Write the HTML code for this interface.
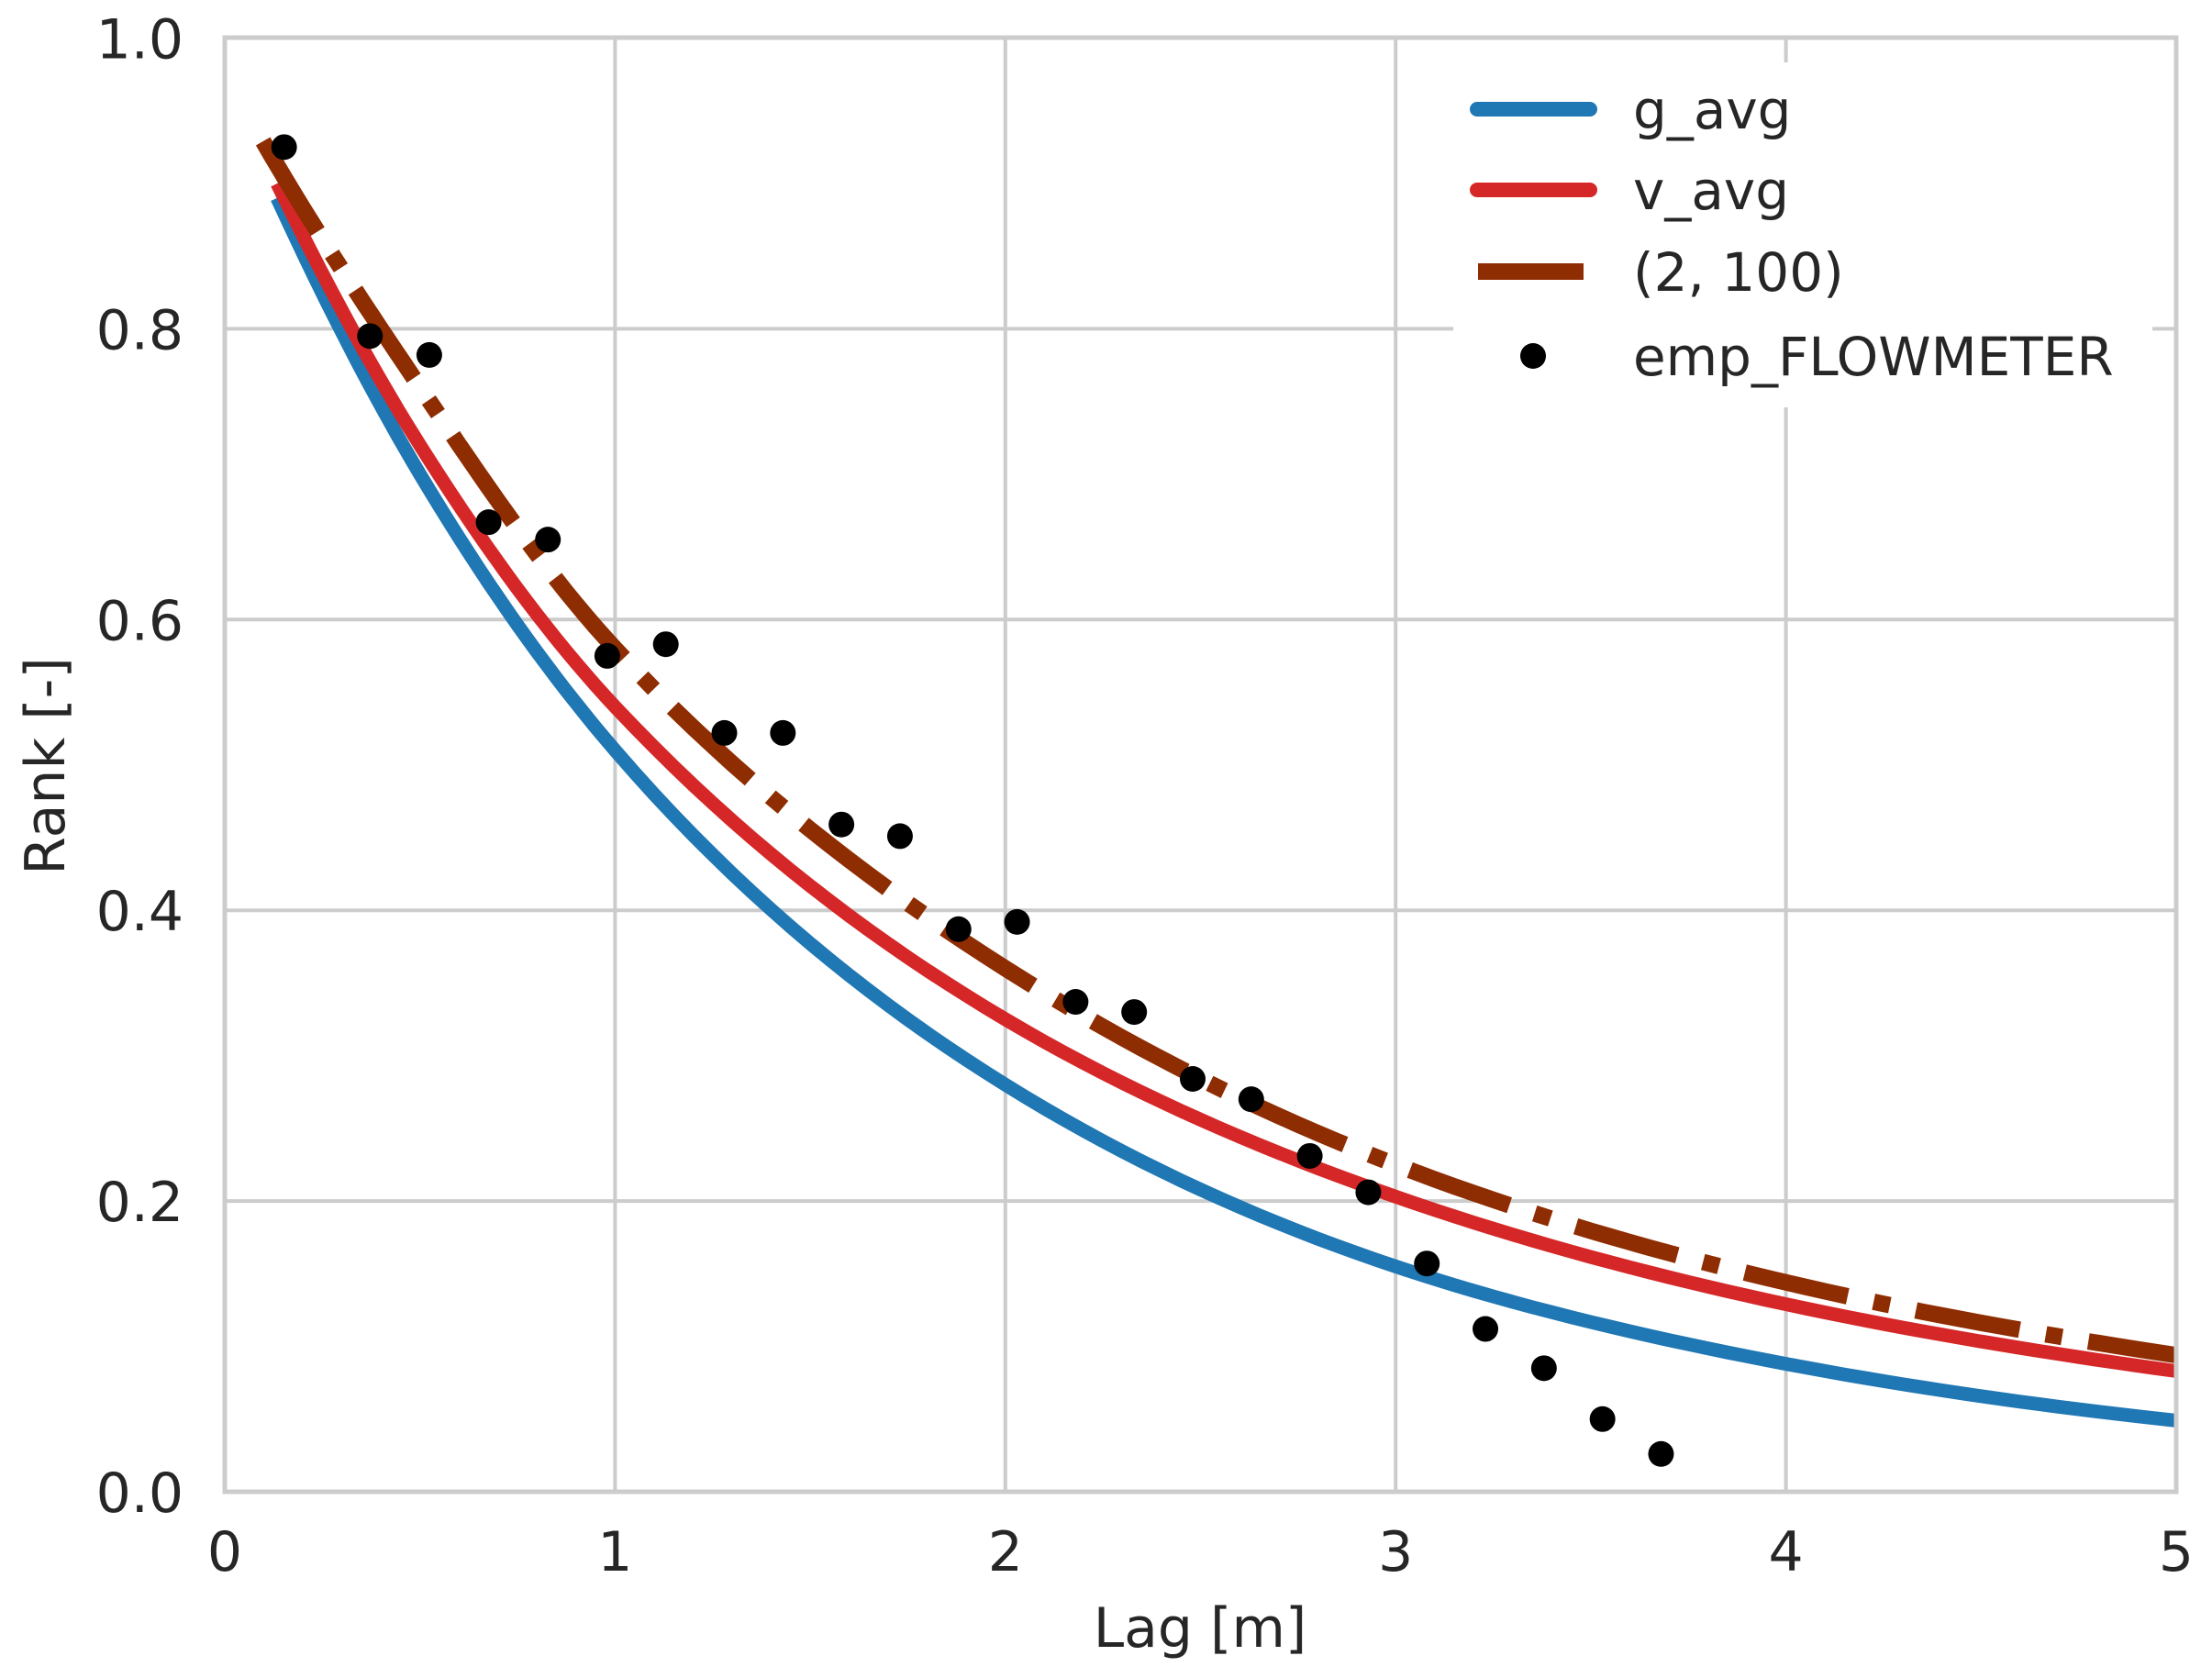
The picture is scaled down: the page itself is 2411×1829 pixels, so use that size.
<!DOCTYPE html>
<html><head><meta charset="utf-8"><style>
html,body{margin:0;padding:0;background:#fff;}
svg{display:block;}
text{font-family:"DejaVu Sans","Liberation Sans",sans-serif;fill:#262626;}
</style></head><body>
<svg id="s" width="2411" height="1829" viewBox="0 0 2411 1829" xmlns="http://www.w3.org/2000/svg">
<rect width="2411" height="1829" fill="#fff"/>
<g id="grid" stroke="#cccccc" stroke-width="4"></g>
<g id="series"></g>
<rect x="245" y="41" width="2127" height="1585" fill="none" stroke="#cccccc" stroke-width="5"/>
<g id="ticks" font-size="58"></g>
<text x="1308" y="1795" font-size="60" text-anchor="middle">Lag [m]</text>
<text x="0" y="0" font-size="60" text-anchor="middle" transform="translate(70,835) rotate(-90)">Rank [-]</text>
<g id="legend">
<rect x="1584" y="68" width="762" height="376" fill="#fff"/>
<line x1="1610" y1="119" x2="1733" y2="119" stroke="#1f77b4" stroke-width="16" stroke-linecap="round"/>
<text x="1780" y="140" font-size="58">g_avg</text>
<line x1="1610" y1="207" x2="1733" y2="207" stroke="#d62728" stroke-width="16" stroke-linecap="round"/>
<text x="1780" y="228" font-size="58">v_avg</text>
<line x1="1611" y1="296" x2="1726" y2="296" stroke="#8f2d02" stroke-width="18"/>
<text x="1780" y="317" font-size="58">(2, 100)</text>
<circle cx="1671" cy="388" r="14" fill="#000"/>
<text x="1780" y="409" font-size="58">emp_FLOWMETER</text>
</g>
</svg>
<script>
(function(){
var NS="http://www.w3.org/2000/svg";
function X(x){return 245+425.4*x;}
function Y(y){return 1626-1584.5*y;}
function el(p,t,a){var e=document.createElementNS(NS,t);for(var k in a)e.setAttribute(k,a[k]);p.appendChild(e);return e;}
var g=document.getElementById('grid'),tk=document.getElementById('ticks');
for(var i=0;i<=5;i++){el(g,'line',{x1:X(i),x2:X(i),y1:41,y2:1626});var t=el(tk,'text',{x:X(i),y:1712,'text-anchor':'middle','font-size':60});t.textContent=i;}
for(var j=0;j<=5;j++){var v=j*0.2;el(g,'line',{x1:245,x2:2372,y1:Y(v),y2:Y(v)});var t2=el(tk,'text',{x:200,y:Y(v)+22,'text-anchor':'end','font-size':60});t2.textContent=v.toFixed(1);}
function curve(kx,ky){
 var ly=ky.map(Math.log),pts=[];
 for(var s=0;s<kx.length-1;s++){
  var x0=kx[Math.max(s-1,0)],x1=kx[s],x2=kx[s+1],x3=kx[Math.min(s+2,kx.length-1)];
  var y0=ly[Math.max(s-1,0)],y1=ly[s],y2=ly[s+1],y3=ly[Math.min(s+2,kx.length-1)];
  var m1=(y2-y0)/(x2-x0||1),m2=(y3-y1)/(x3-x1||1);var h=x2-x1;
  for(var k=0;k<20;k++){var u=k/20,h00=2*u*u*u-3*u*u+1,h10=u*u*u-2*u*u+u,h01=-2*u*u*u+3*u*u,h11=u*u*u-u*u;
   var yy=h00*y1+h10*h*m1+h01*y2+h11*h*m2;pts.push([x1+u*h,Math.exp(yy)]);}
 }
 pts.push([kx[kx.length-1],ky[ky.length-1]]);
 return pts.map(function(p,i){return (i?'L':'M')+X(p[0]).toFixed(1)+' '+Y(p[1]).toFixed(1);}).join(' ');
}
var sr=document.getElementById('series');
el(sr,'path',{d:curve([0.134,0.5,1,2,3,4,5],[0.89,0.70,0.51,0.28,0.155,0.088,0.049]),fill:'none',stroke:'#1f77b4','stroke-width':15,'stroke-linejoin':'round'});
el(sr,'path',{d:curve([0.134,0.5,1,2,3,4,5],[0.90,0.72,0.54,0.325,0.203,0.129,0.083]),fill:'none',stroke:'#d62728','stroke-width':15,'stroke-linejoin':'round'});
el(sr,'path',{d:curve([0.098,0.5,1,2,3,4,5],[0.929,0.76,0.58,0.36,0.225,0.144,0.094]),fill:'none',stroke:'#8f2d02','stroke-width':18,'stroke-dasharray':'115 29 18 29'});
var pts=[[0.152,0.925],[0.372,0.795],[0.524,0.782],[0.676,0.667],[0.828,0.655],[0.98,0.575],[1.13,0.583],[1.28,0.522],[1.43,0.522],[1.58,0.459],[1.73,0.451],[1.88,0.387],[2.03,0.392],[2.18,0.337],[2.33,0.33],[2.48,0.284],[2.63,0.27],[2.78,0.231],[2.93,0.206],[3.08,0.157],[3.23,0.112],[3.38,0.085],[3.53,0.05],[3.68,0.026]];
pts.forEach(function(p){el(sr,'circle',{cx:X(p[0]),cy:Y(p[1]),r:14,fill:'#000'});});
})();
</script>
</body></html>
